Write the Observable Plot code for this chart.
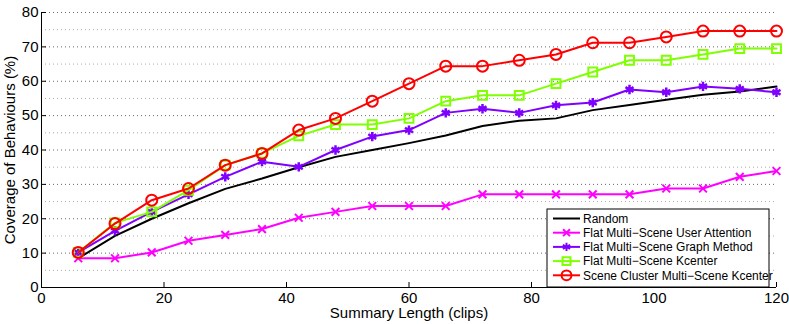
<!DOCTYPE html>
<html><head><meta charset="utf-8">
<script src="https://cdn.jsdelivr.net/npm/d3@7"></script>
<script src="https://cdn.jsdelivr.net/npm/@observablehq/plot@0.6"></script>
<style>body{margin:0;background:#fff}#chart{width:789px;height:324px}</style>
</head><body><div id="chart"></div>
<script>
const clips = [6,12,18,24,30,36,42,48,54,60,66,72,78,84,90,96,102,108,114,120];
const random =        [8.5,15.0,20.0,24.5,28.7,31.7,35.0,38.0,40.0,42.0,44.2,47.0,48.5,49.2,51.6,53.1,54.6,56.1,57.0,58.5];
const userAttention = [8.5,8.5,10.2,13.6,15.3,17.0,20.3,22.0,23.7,23.7,23.7,27.1,27.1,27.1,27.1,27.1,28.8,28.8,32.2,33.9];
const graphMethod =   [10.2,16.5,22.0,27.1,32.2,36.6,35.1,40.0,43.9,45.8,50.8,52.0,50.8,53.0,53.8,57.6,56.8,58.5,57.8,56.8];
const flatKcenter =   [10.2,18.8,22.0,28.3,35.6,39.0,44.1,47.4,47.4,49.2,54.2,55.9,55.9,59.3,62.7,66.1,66.1,67.8,69.5,69.5];
const sceneKcenter =  [10.2,18.6,25.4,28.8,35.6,39.0,45.8,49.2,54.2,59.3,64.4,64.4,66.1,67.8,71.2,71.2,72.9,74.6,74.6,74.6];
const seriesNames = ["Random","Flat Multi\u2212Scene User Attention","Flat Multi\u2212Scene Graph Method","Flat Multi\u2212Scene Kcenter","Scene Cluster Multi\u2212Scene Kcenter"];
const seriesValues = [random, userAttention, graphMethod, flatKcenter, sceneKcenter];
const xTicks = [0,20,40,60,80,100,120];
const yTicks = [0,10,20,30,40,50,60,70,80];
const yMinor = [5,15,25,35,45,55,65,75];

const colors = ["#000000","#ff00ff","#7f00ff","#7fff00","#ff0000"];
const symbols = [null,"times","asterisk","square","circle"];
const radii = [0,3.6,4.4,5,5.5];

const rows = [];
seriesNames.forEach((name,i)=>clips.forEach((c,j)=>rows.push({name, x:c, y:seriesValues[i][j]})));

const marks = [
  Plot.gridY(yMinor,{stroke:"#888",strokeOpacity:0.7,strokeDasharray:"1,3"}),
  Plot.gridY(yTicks.filter(d=>d>0),{stroke:"#444",strokeOpacity:0.8,strokeDasharray:"1,3"}),
  Plot.axisY(yTicks,{tickSize:-5,tickPadding:8,fontSize:15,label:null}),
  Plot.axisX(xTicks,{tickSize:-5,tickPadding:10,fontSize:15,label:null}),
  Plot.ruleY([0]),
  Plot.ruleX([0])
];
seriesNames.forEach((name,i)=>{
  const d = rows.filter(r=>r.name===name);
  marks.push(Plot.line(d,{x:"x",y:"y",stroke:colors[i],strokeWidth:2}));
  if (symbols[i]) marks.push(Plot.dot(d,{x:"x",y:"y",symbol:symbols[i],r:radii[i],stroke:colors[i],fill:"none",strokeWidth:symbols[i]==="asterisk"?2.5:2}));
});
marks.push(Plot.text(["Coverage of Behaviours (%)"],{frameAnchor:"left",textAnchor:"middle",rotate:-90,dx:-31,fontSize:15,text:d=>d}));
marks.push(Plot.text(["Summary Length (clips)"],{frameAnchor:"bottom",textAnchor:"middle",dy:30,fontSize:15,text:d=>d}));

const chart = Plot.plot({
  width:789,height:324,
  marginLeft:41,marginRight:13,marginTop:12,marginBottom:37,
  style:{fontFamily:"'Liberation Sans', Arial, sans-serif",fontSize:"15px",color:"#000",background:"#fff",overflow:"visible"},
  x:{domain:[0,120]},
  y:{domain:[0,80]},
  marks
});
document.getElementById("chart").appendChild(chart);

// legend
const svg = d3.select(chart);
const g = svg.append("g").attr("font-family","'Liberation Sans', Arial, sans-serif").attr("font-size",12).attr("text-anchor","start");
const lx = 547, ly = 209, lw = 222, lh = 78, rowH = 14.2;
g.append("rect").attr("x",lx).attr("y",ly).attr("width",lw).attr("height",lh).attr("fill","#fff").attr("stroke","#000").attr("stroke-width",1);
seriesNames.forEach((name,i)=>{
  const cy = ly + 9.5 + i*rowH;
  g.append("line").attr("x1",lx+6).attr("x2",lx+33).attr("y1",cy).attr("y2",cy).attr("stroke",colors[i]).attr("stroke-width",2);
  if (symbols[i]) {
    const typ = {times:d3.symbolTimes,asterisk:d3.symbolAsterisk,square:d3.symbolSquare,circle:d3.symbolCircle}[symbols[i]];
    g.append("path").attr("d",d3.symbol(typ, Math.PI*radii[i]*radii[i]*0.8)()).attr("transform",`translate(${lx+19.5},${cy})`)
      .attr("fill","none").attr("stroke",colors[i]).attr("stroke-width",2);
  }
  g.append("text").attr("x",lx+36).attr("y",cy).attr("dy","0.35em").attr("text-anchor","start").text(name);
});
</script>
</body></html>
